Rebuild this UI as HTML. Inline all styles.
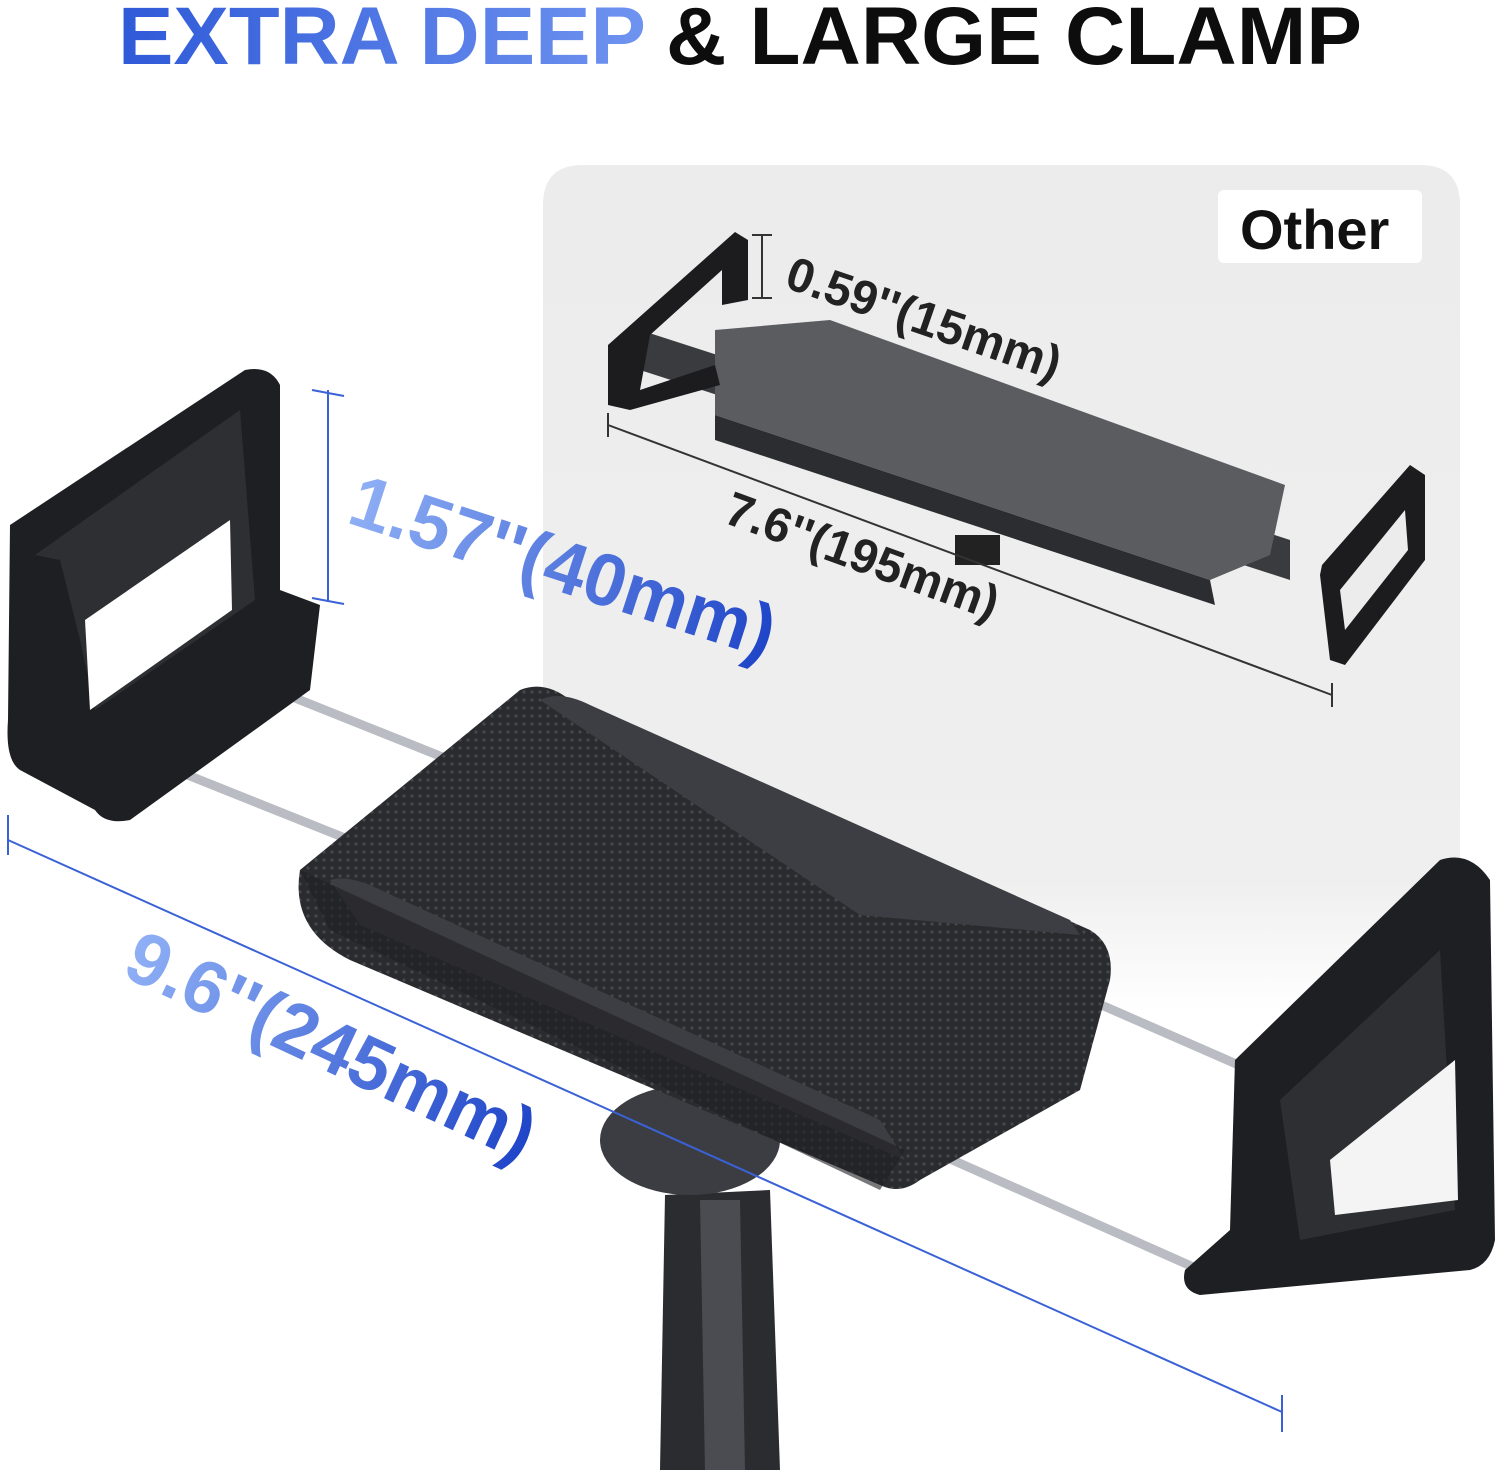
<!DOCTYPE html>
<html><head><meta charset="utf-8"><style>
html,body{margin:0;padding:0;background:#fff;width:1500px;height:1470px;overflow:hidden}
svg{display:block}
text{font-family:"Liberation Sans",sans-serif;font-weight:bold}
</style></head><body>
<svg width="1500" height="1470" viewBox="0 0 1500 1470" xmlns="http://www.w3.org/2000/svg">
<defs>
<linearGradient id="bg" x1="0" y1="0" x2="1" y2="0"><stop offset="0" stop-color="#2f5ad8"/><stop offset="1" stop-color="#6f93f0"/></linearGradient>
<linearGradient id="bt" x1="0" y1="0" x2="1" y2="0"><stop offset="0" stop-color="#8fb0f5"/><stop offset="1" stop-color="#1f45c8"/></linearGradient>
<linearGradient id="panel" x1="0" y1="0" x2="0" y2="1"><stop offset="0" stop-color="#ececec"/><stop offset="0.85" stop-color="#efefef"/><stop offset="1" stop-color="#ffffff"/></linearGradient>
<pattern id="dots" width="8" height="8" patternUnits="userSpaceOnUse"><rect width="8" height="8" fill="#2a2b2f"/><circle cx="4" cy="4" r="1.6" fill="#45474c"/></pattern>
</defs>
<text x="118" y="64" font-size="82" fill="url(#bg)" textLength="528" lengthAdjust="spacingAndGlyphs">EXTRA DEEP</text>
<text x="666" y="64" font-size="82" fill="#0d0d0d" textLength="696" lengthAdjust="spacingAndGlyphs">&amp; LARGE CLAMP</text>
<path d="M543 1010 V205 Q543 165 583 165 H1420 Q1460 165 1460 205 V1010 Z" fill="url(#panel)"/>
<rect x="1218" y="190" width="204" height="73" rx="6" fill="#fff"/>
<text x="1240" y="249" font-size="56" fill="#111">Other</text>
<!-- small clamp -->
<g>
<polygon points="640,330 1290,540 1290,580 640,370" fill="#3a3b3e"/>
<polygon points="715,330 830,320 1285,485 1270,555 1210,580 715,415" fill="#5a5c60"/>
<polygon points="715,415 1210,580 1215,605 715,440" fill="#2c2d30"/>
<path d="M608 345 L735 232 L748 240 L748 300 L722 305 L722 270 L650 335 L640 390 L715 365 L720 385 L630 410 L608 405 Z" fill="#1c1c1e"/>
<path d="M1322 565 L1410 465 L1425 475 L1425 560 L1345 665 L1330 660 L1320 575 Z" fill="#1c1c1e"/>
<polygon points="1340,590 1405,510 1408,550 1345,630" fill="#ececec"/>
<rect x="955" y="535" width="45" height="30" fill="#222"/>
</g>
<g stroke="#333" stroke-width="2" fill="none">
<line x1="762" y1="235" x2="762" y2="298"/><line x1="752" y1="235" x2="772" y2="235"/><line x1="752" y1="298" x2="772" y2="298"/>
<line x1="608" y1="425" x2="1332" y2="695"/><line x1="608" y1="413" x2="608" y2="437"/><line x1="1332" y1="683" x2="1332" y2="707"/>
</g>
<text transform="translate(783,287) rotate(19)" font-size="48" fill="#222">0.59''(15mm)</text>
<text transform="translate(722,522) rotate(20)" font-size="48" fill="#222">7.6''(195mm)</text>
<g stroke="#b9bcc2" stroke-width="9" stroke-linecap="round">
<line x1="250" y1="680" x2="450" y2="760"/>
<line x1="150" y1="760" x2="350" y2="840"/>
<line x1="1090" y1="1000" x2="1250" y2="1070"/>
<line x1="930" y1="1150" x2="1200" y2="1270"/>
</g>
<polygon points="665,1195 770,1190 780,1470 660,1470" fill="#2b2c30"/>
<polygon points="700,1200 740,1200 745,1470 705,1470" fill="#4a4c52"/>
<ellipse cx="690" cy="1140" rx="90" ry="55" fill="#3b3d42"/>
<path d="M300 870 L520 690 Q545 680 570 700 L1090 930 Q1115 945 1110 980 L1080 1090 L920 1180 Q900 1195 880 1185 L350 960 Q290 930 300 870 Z" fill="url(#dots)"/>
<path d="M540 700 Q560 690 590 705 L1070 920 L1080 935 L860 915 Z" fill="#3c3e43"/>
<path d="M330 880 Q345 875 370 885 L880 1120 L905 1160 L360 925 Z" fill="#3c3e43"/>
<path d="M300 870 L330 930 L880 1190 L905 1150 Z" fill="#1f2023" opacity="0.6"/>
<path d="M10 525 L245 370 Q270 365 280 385 L280 590 L320 605 L310 690 L130 820 Q105 825 95 810 L20 770 Q5 760 8 720 Z" fill="#1e1f22"/>
<path d="M35 555 L240 410 L255 600 L95 710 L80 640 L60 560 Z" fill="#2d2f33"/>
<polygon points="85,620 230,520 232,610 90,710" fill="#fff"/>
<path d="M1235 1060 L1440 860 Q1470 850 1490 880 L1495 1240 Q1490 1265 1470 1270 L1200 1295 Q1180 1290 1185 1270 L1230 1230 Z" fill="#1e1f22"/>
<path d="M1280 1100 L1440 950 L1455 1210 L1300 1240 Z" fill="#2d2f33"/>
<polygon points="1330,1160 1455,1060 1458,1200 1335,1215" fill="#f4f4f4"/>
<g stroke="#3a62d6" stroke-width="2" fill="none">
<line x1="328" y1="390" x2="328" y2="602"/><line x1="312" y1="390" x2="344" y2="396"/><line x1="312" y1="598" x2="344" y2="604"/>
<line x1="8" y1="840" x2="1282" y2="1412"/><line x1="8" y1="815" x2="8" y2="855"/><line x1="1282" y1="1395" x2="1282" y2="1432"/>
</g>
<text transform="translate(345,522) rotate(18)" font-size="74" fill="url(#bt)">1.57''(40mm)</text>
<text transform="translate(120,975) rotate(25)" font-size="74" fill="url(#bt)">9.6''(245mm)</text>
</svg>
</body></html>
